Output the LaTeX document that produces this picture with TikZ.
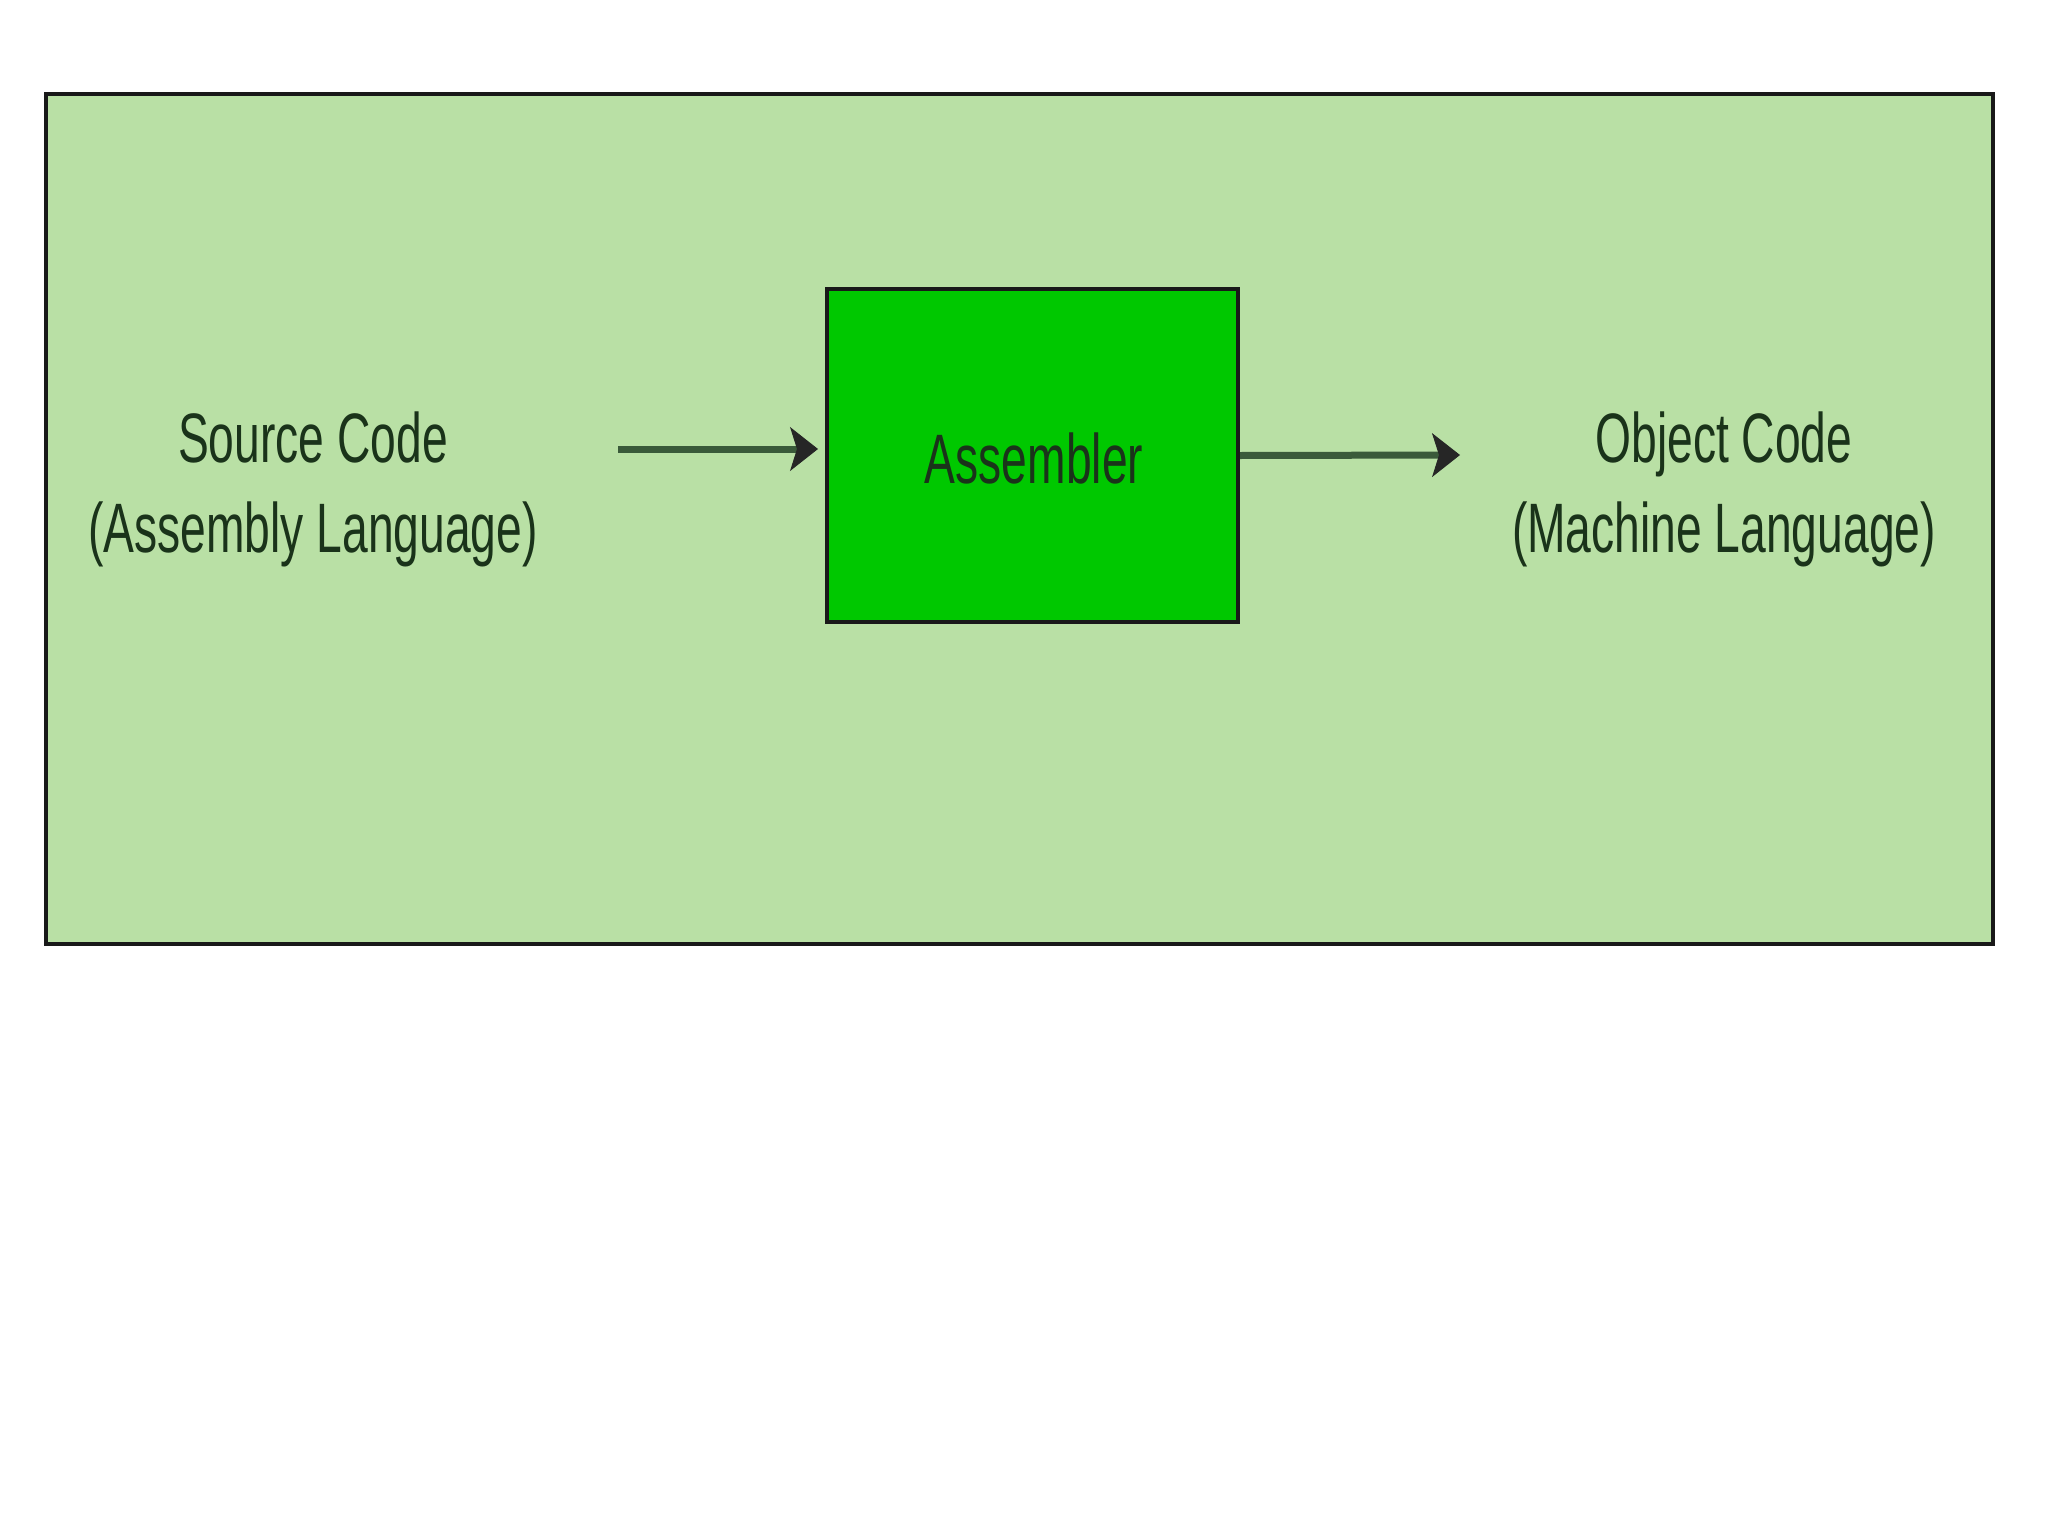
\documentclass[tikz,border=0pt]{standalone}
\usepackage{fontspec}
\setmainfont{Liberation Sans}
\usetikzlibrary{arrows.meta}
\definecolor{bgreen}{HTML}{B9E0A5}
\definecolor{agreen}{HTML}{00C800}
\definecolor{txt}{HTML}{1A331A}
\definecolor{edge}{HTML}{3A5A3A}
\newcommand{\nar}[1]{\scalebox{0.66}[1]{#1}}
\begin{document}
\begin{tikzpicture}[x=1pt,y=-1pt,
  lbl/.style={inner sep=0pt, align=center, text=txt, font=\fontsize{70}{90}\selectfont},
  frame/.style={draw=black!90, fill=bgreen, line width=4pt, inner sep=0pt},
  proc/.style={draw=black!90, fill=agreen, line width=4pt, inner sep=0pt},
  flow/.style={draw=edge, line width=7pt,
    -{Stealth[length=28pt,width=44pt,inset=7pt,color=black!85,fill=black!85,line width=1pt]}}]
\fill[white] (0,0) rectangle (2048,1536);
\useasboundingbox (0,0) rectangle (2048,1536);
\node[frame, minimum width=1947pt, minimum height=850pt] (frm) at (1019.5,519) {};
\node[proc, minimum width=411pt, minimum height=333pt] (asm) at (1032.5,455.5) {};
\node[lbl] (asmt) at (1034,458) {\nar{Assembler}};
\node[lbl] (src) at (313,489) {\nar{Source Code}\\\nar{(Assembly Language)}};
\node[lbl] (obj) at (1724,489) {\nar{Object Code}\\\nar{(Machine Language)}};
\coordinate (a1s) at (618,449);
\coordinate (a2e) at (1460,455);
\draw[flow] (a1s) -- ([xshift=-7pt]asm.west |- a1s);
\draw[flow] (asm.east) -- (a2e);
\end{tikzpicture}
\end{document}
